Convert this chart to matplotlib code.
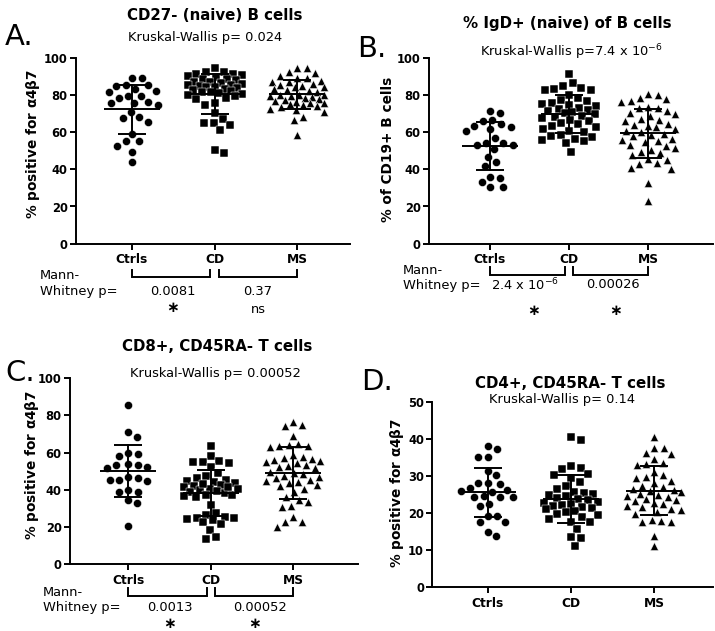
import numpy as np
import matplotlib
matplotlib.use('Agg')
import matplotlib.pyplot as plt
import matplotlib.transforms as mtransforms
from matplotlib.lines import Line2D

# ---------------- data ----------------
groups = ['Ctrls', 'CD', 'MS']

a_ctrls = [89.2, 89.0, 85.4, 85.0, 85.2, 83.2, 82.2, 81.8, 79.4, 78.5, 79.2, 75.6, 74.6,
           75.4, 76.0, 70.6, 67.4, 65.6, 68.3, 59.0, 55.4, 55.2, 52.7, 49.5, 44.0]
a_cd = [94.3, 92.5, 92.5, 91.5, 91.2, 90.5, 90.0, 89.5, 88.8, 88.5, 88.0, 87.2, 87.0, 86.5,
        86.0, 85.5, 85.2, 84.8, 84.2, 84.0, 83.5, 83.0, 82.6, 82.2, 81.8, 81.5, 81.0, 80.5,
        80.2, 79.5, 78.5, 77.6, 75.5, 74.6, 70.1, 67.0, 65.0, 64.7, 63.8, 61.1, 50.4, 48.6]
a_ms = [94.6, 94.3, 92.1, 91.6, 90.0, 89.2, 89.0, 87.5, 87.1, 86.8, 86.0, 85.2, 84.8, 84.5,
        84.0, 83.2, 82.8, 82.3, 81.8, 80.2, 79.8, 79.4, 79.8, 79.2, 78.8, 78.2, 77.8, 77.3,
        76.8, 76.2, 75.8, 75.5, 75.0, 74.5, 74.0, 73.5, 72.4, 71.9, 70.6, 68.3, 66.5, 58.4]

b_ctrls = [71.5, 70.1, 66.5, 66.0, 64.4, 63.3, 63.0, 61.5, 60.8, 57.0, 54.3, 54.3, 53.1,
           53.1, 50.9, 46.8, 44.1, 41.9, 35.7, 35.1, 33.0, 30.3, 30.3]
b_cd = [91.0, 86.2, 85.0, 83.5, 83.2, 82.6, 82.6, 80.0, 78.2, 77.5, 76.5, 75.6, 75.2, 74.5,
        73.8, 73.0, 72.5, 72.0, 71.6, 71.0, 70.5, 69.5, 68.8, 68.3, 67.4, 66.5, 65.8, 65.0,
        64.2, 63.3, 62.5, 61.5, 60.8, 60.0, 58.5, 57.9, 57.5, 56.5, 55.7, 55.2, 54.0, 49.5]
b_ms = [80.5, 80.2, 78.2, 77.8, 76.5, 76.2, 73.5, 73.2, 72.8, 71.5, 70.2, 69.5, 68.5, 67.2,
        66.5, 65.8, 64.5, 63.8, 63.2, 62.5, 61.8, 60.5, 59.8, 59.2, 58.5, 57.8, 56.5, 55.8,
        55.2, 54.5, 53.2, 52.5, 51.2, 50.5, 49.2, 48.5, 47.5, 45.3, 45.1, 43.3, 43.1, 40.6,
        40.4, 32.8, 23.0]

c_ctrls = [85.6, 70.9, 68.6, 60.0, 58.2, 59.2, 53.3, 53.9, 51.5, 53.3, 52.4, 45.2, 46.1,
           44.5, 47.0, 45.2, 39.0, 40.0, 39.0, 34.5, 32.7, 20.5]
c_cd = [63.8, 58.2, 55.7, 54.8, 54.2, 55.1, 52.1, 48.8, 47.5, 46.2, 45.5, 44.8, 44.2, 43.5,
        42.8, 42.0, 41.2, 40.5, 39.8, 39.2, 38.6, 38.0, 37.4, 36.8, 40.2, 41.6, 43.0, 32.0,
        37.0, 36.0, 27.5, 26.2, 25.5, 25.0, 24.6, 24.2, 23.5, 22.5, 21.5, 18.5, 14.3, 13.2]
c_ms = [76.7, 74.9, 74.3, 68.9, 64.5, 64.1, 63.8, 63.5, 63.2, 58.5, 57.8, 57.2, 56.8, 56.2,
        55.5, 54.8, 54.2, 53.5, 52.8, 52.2, 51.5, 49.5, 48.8, 48.2, 47.5, 46.8, 46.2, 45.5,
        44.8, 44.2, 43.5, 42.5, 41.8, 40.2, 39.0, 36.0, 34.5, 33.5, 31.2, 30.5, 25.5, 22.8,
        22.6, 20.1]

d_ctrls = [38.1, 37.2, 35.0, 35.2, 31.4, 30.2, 28.1, 28.0, 27.8, 26.8, 26.2, 26.0, 25.8,
           24.4, 24.2, 24.6, 24.3, 22.5, 21.8, 19.2, 19.2, 17.7, 17.6, 15.0, 13.8]
d_cd = [40.4, 39.7, 32.7, 32.1, 32.0, 30.5, 30.3, 29.4, 28.5, 27.2, 26.5, 25.8, 25.5, 25.2,
        24.8, 24.5, 24.1, 23.8, 23.4, 23.0, 22.8, 22.5, 22.2, 21.9, 21.6, 21.3, 21.0, 20.6,
        20.2, 19.8, 19.5, 19.0, 18.3, 17.7, 17.6, 15.6, 13.5, 13.2, 11.1]
d_ms = [40.6, 37.6, 37.4, 36.3, 35.8, 34.6, 33.4, 33.2, 32.9, 31.1, 30.2, 29.8, 29.5, 28.7,
        28.0, 27.4, 27.0, 26.6, 26.2, 25.9, 25.6, 25.2, 24.9, 24.5, 24.2, 23.9, 23.6, 23.2,
        22.8, 22.4, 22.0, 21.6, 21.2, 20.8, 20.3, 19.8, 18.1, 17.9, 17.7, 17.6, 13.8, 11.2]

titles = ['CD27- (naive) B cells', '% IgD+ (naive) of B cells',
          'CD8+, CD45RA- T cells', 'CD4+, CD45RA- T cells']
kw_texts = ['Kruskal-Wallis p= 0.024', r'Kruskal-Wallis p=7.4 x 10$^{\mathregular{-6}}$',
            'Kruskal-Wallis p= 0.00052', 'Kruskal-Wallis p= 0.14']
ylabels = [r'% positive for $\mathregular{\alpha 4\beta 7}$', '% of CD19+ B cells',
           r'% positive for $\mathregular{\alpha 4\beta 7}$', r'% positive for $\mathregular{\alpha 4\beta 7}$']
letters = ['A.', 'B.', 'C.', 'D.']
mw_p = [['0.0081', '0.37'], [r'2.4 x 10$^{\mathregular{-6}}$', '0.00026'], ['0.0013', '0.00052'], None]
mw_sig = [['*', 'ns'], ['*', '*'], ['*', '*'], None]
ymaxes = [100, 100, 100, 50]
ysteps = [20, 20, 20, 10]

# ---------------- layout ----------------
W, H = 715, 631
plt.rcParams['font.family'] = ['DejaVu Sans']
plt.rcParams['mathtext.fontset'] = 'dejavusans'
fig = plt.figure(figsize=(W / 100, H / 100), dpi=100)
fig.patch.set_facecolor('white')


def fx(px):
    return px / W


def fy(py):
    return 1 - py / H


# x0, x1, ytop, ybot, pixel of group0, pixel of group2
geom = [
    (76, 350, 57.7, 243.7, 132, 297),
    (429, 713, 57.7, 243.7, 490, 648.3),
    (70, 358, 378.3, 564, 128.3, 293.3),
    (432.3, 713, 401.7, 587.3, 487.7, 654.3),
]
# star positions are given as the bottom of the text box
text_pos = [
    dict(letter=(19, 37), title=(214.5, 15.5), kw=(205, 37), ylab=(33, 143.5),
         mw=(40, 275, 291.7), p=[(173, 291.7), (258, 291.7)], s=[(173, 315), (258, 309)],
         br=(270, 277.3)),
    dict(letter=(372, 49), title=(567.5, 23.5), kw=(571.7, 52.5), ylab=(388, 149),
         mw=(402.7, 270, 285), p=[(525, 285), (613, 285)], s=[(534, 318), (616, 318)],
         br=(267.3, 275)),
    dict(letter=(20, 373), title=(216.7, 346.7), kw=(215, 373.3), ylab=(32, 465),
         mw=(43, 592, 607.8), p=[(169.7, 607.8), (260, 607.8)], s=[(170, 630.6), (255, 630.6)],
         br=(588.3, 595.7)),
    dict(letter=(377, 381.7), title=(570, 383.3), kw=(561.7, 400), ylab=(396.7, 493)),
]

panel_data = [
    [a_ctrls, a_cd, a_ms],
    [b_ctrls, b_cd, b_ms],
    [c_ctrls, c_cd, c_ms],
    [d_ctrls, d_cd, d_ms],
]
markers = ['o', 's', '^']
msizes = [34, 30, 34]


def swarm_offsets(vals_px, d=9.5, maxhw=27.0):
    vals_px = np.asarray(vals_px, float)
    order = np.argsort(-vals_px)
    cands = [0.0]
    for c in np.arange(0.5, maxhw + 0.01, 0.5):
        cands += [c, -c]
    px, py = [], []
    offs = np.zeros(len(vals_px))
    for i in order:
        y = vals_px[i]
        best_c, best_clear = 0.0, -1
        for c in cands:
            if px:
                clear = np.min(np.hypot(np.array(px) - c, np.array(py) - y))
            else:
                clear = np.inf
            if clear >= d:
                best_c = c
                break
            if clear > best_clear:
                best_clear, best_c = clear, c
        offs[i] = best_c
        px.append(best_c)
        py.append(y)
    return offs


lw = 1.4
for k in range(4):
    x0, x1, yt, yb, g0, g2 = geom[k]
    ppu = (g2 - g0) / 2.0
    ax = fig.add_axes([fx(x0), fy(yb), (x1 - x0) / W, (yb - yt) / H])
    ax.set_xlim((x0 - g0) / ppu, (x1 - g0) / ppu)
    ymax = ymaxes[k]
    ax.set_ylim(0, ymax)
    ypp = (yb - yt) / ymax  # pixels per y unit
    for s in ['top', 'right']:
        ax.spines[s].set_visible(False)
    for s in ['left', 'bottom']:
        ax.spines[s].set_linewidth(lw)
    ax.set_yticks(np.arange(0, ymax + 0.1, ysteps[k]))
    ax.set_xticks([0, 1, 2])
    ax.set_xticklabels(groups, fontsize=8.8, fontweight='bold')
    for lab in ax.get_yticklabels():
        lab.set_fontweight('bold')
        lab.set_fontsize(8.3)
    ax.tick_params(axis='both', direction='out', length=4.5, width=lw)
    ax.tick_params(axis='y', pad=1.5)
    ax.tick_params(axis='x', pad=2.5)

    for g, vals in enumerate(panel_data[k]):
        vals = np.asarray(vals, float)
        offs = swarm_offsets(vals * ypp)
        ax.scatter(g + offs / ppu, vals, marker=markers[g], s=msizes[g], c='black',
                   edgecolors='white', linewidths=0.35, zorder=2, clip_on=False)
        m = vals.mean()
        sd = vals.std(ddof=1)
        hw_m = 28 / ppu
        hw_s = 14 / ppu
        ax.plot([g - hw_m, g + hw_m], [m, m], color='black', lw=lw, zorder=3,
                solid_capstyle='butt')
        for yv in (m - sd, m + sd):
            ax.plot([g - hw_s, g + hw_s], [yv, yv], color='black', lw=lw, zorder=3,
                    solid_capstyle='butt')
        ax.plot([g, g], [m - sd, m + sd], color='black', lw=lw, zorder=3)

    tp = text_pos[k]
    fig.text(fx(tp['letter'][0]), fy(tp['letter'][1]), letters[k], fontsize=21,
             ha='center', va='center')
    fig.text(fx(tp['title'][0]), fy(tp['title'][1]), titles[k], fontsize=10.8,
             fontweight='bold', ha='center', va='center')
    fig.text(fx(tp['kw'][0]), fy(tp['kw'][1]), kw_texts[k], fontsize=9.4,
             ha='center', va='center')
    fig.text(fx(tp['ylab'][0]), fy(tp['ylab'][1]), ylabels[k], fontsize=9.8,
             fontweight='bold', rotation=90, ha='center', va='center')

    if mw_p[k] is not None:
        mx, my1, my2 = tp['mw']
        fig.text(fx(mx), fy(my1), 'Mann-', fontsize=9.4, ha='left', va='center')
        fig.text(fx(mx), fy(my2), 'Whitney p=', fontsize=9.4, ha='left', va='center')
        for j in range(2):
            fig.text(fx(tp['p'][j][0]), fy(tp['p'][j][1]), mw_p[k][j], fontsize=9.4,
                     ha='center', va='center')
            sig = mw_sig[k][j]
            if sig == '*':
                fig.text(fx(tp['s'][j][0]), fy(tp['s'][j][1]), '\u2217', fontsize=11,
                         fontweight='bold', ha='center', va='bottom')
            else:
                fig.text(fx(tp['s'][j][0]), fy(tp['s'][j][1]), sig, fontsize=9.4,
                         ha='center', va='center')
        trans = mtransforms.blended_transform_factory(ax.transData, fig.transFigure)
        ytop_b, ybot_b = tp['br']
        for (xa, xb) in [(0.0, 0.95), (1.05, 2.0)]:
            line = Line2D([xa, xa, xb, xb], [fy(ytop_b), fy(ybot_b), fy(ybot_b), fy(ytop_b)],
                          transform=trans, color='black', lw=lw, clip_on=False,
                          solid_joinstyle='miter')
            fig.add_artist(line)

fig.savefig('out.png', dpi=100, facecolor='white')
